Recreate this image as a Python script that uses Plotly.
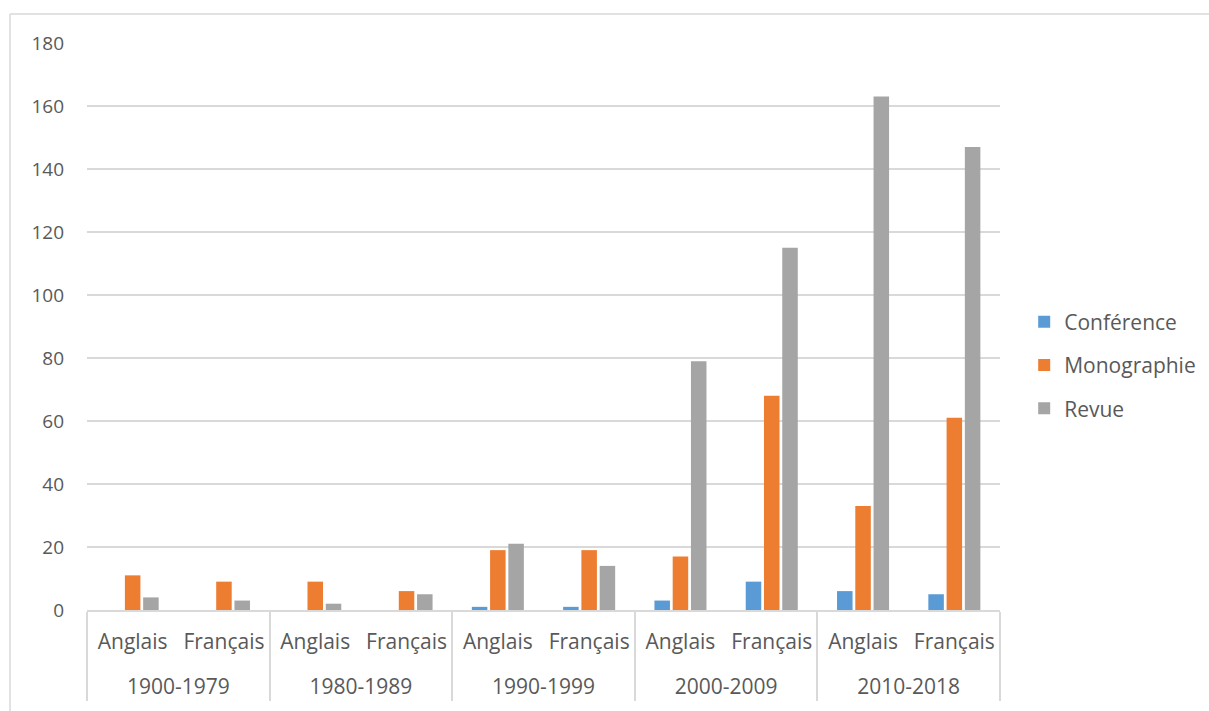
import plotly.graph_objects as go

periods = ["1900-1979", "1980-1989", "1990-1999", "2000-2009", "2010-2018"]
languages = ["Anglais", "Français"]
conference = [0, 0, 0, 0, 1, 1, 3, 9, 6, 5]
monographie = [11, 9, 9, 6, 19, 19, 17, 68, 33, 61]
revue = [4, 3, 2, 5, 21, 14, 79, 115, 163, 147]
y_ticks = [0, 20, 40, 60, 80, 100, 120, 140, 160, 180]

outer = [p for p in periods for _ in languages]
# invisible second line gives the inner label row extra height (Excel-like spacing)
inner = [l + "<br>\u00a0" for _ in periods for l in languages]

FONT = "Open Sans"
TXT = "#595959"
GRID = "#d9d9d9"

fig = go.Figure()
for name, vals, col in [("Conférence", conference, "#5B9BD5"),
                        ("Monographie", monographie, "#ED7D31"),
                        ("Revue", revue, "#A5A5A5")]:
    fig.add_trace(go.Bar(x=[outer, inner], y=vals, name=name, legendgroup=name,
                         marker=dict(color=col, line=dict(width=0))))

fig.update_layout(
    width=1209, height=711,
    margin=dict(l=87, r=209, t=43, b=101, autoexpand=False),
    paper_bgcolor="white", plot_bgcolor="white",
    barmode="group", bargap=0.4, bargroupgap=0.15,
    font=dict(family=FONT, size=21, color=TXT),
    legend=dict(x=1.0265, y=0.432, xanchor="left", yanchor="middle",
                font=dict(family=FONT, size=21, color=TXT),
                tracegroupgap=13, itemwidth=30),
    showlegend=True,
    xaxis=dict(type="multicategory", showgrid=False, showline=True,
               linecolor=GRID, linewidth=1.5, showdividers=True,
               dividercolor=GRID, dividerwidth=1.5, ticks="",
               ticklabelstandoff=12,
               tickfont=dict(family=FONT, size=21, color=TXT)),
    yaxis=dict(range=[0, 180], tickvals=y_ticks, showgrid=True, gridcolor=GRID,
               gridwidth=1.5, zeroline=False, showline=False, ticks="",
               ticklabelstandoff=22,
               tickfont=dict(family=FONT, size=19, color=TXT)),
)

# chart-area border: only top and left edges are visible in the page
fig.add_shape(type="line", xref="paper", yref="paper",
              x0=-0.0843, x1=1.3, y0=1.051, y1=1.051,
              line=dict(color=GRID, width=1.5), layer="below")
fig.add_shape(type="line", xref="paper", yref="paper",
              x0=-0.0843, x1=-0.0843, y0=-0.3, y1=1.051,
              line=dict(color=GRID, width=1.5), layer="below")

fig.write_html("out.html", config={"displayModeBar": False},
               post_script="document.body.style.margin='0';document.body.style.overflow='hidden';")
